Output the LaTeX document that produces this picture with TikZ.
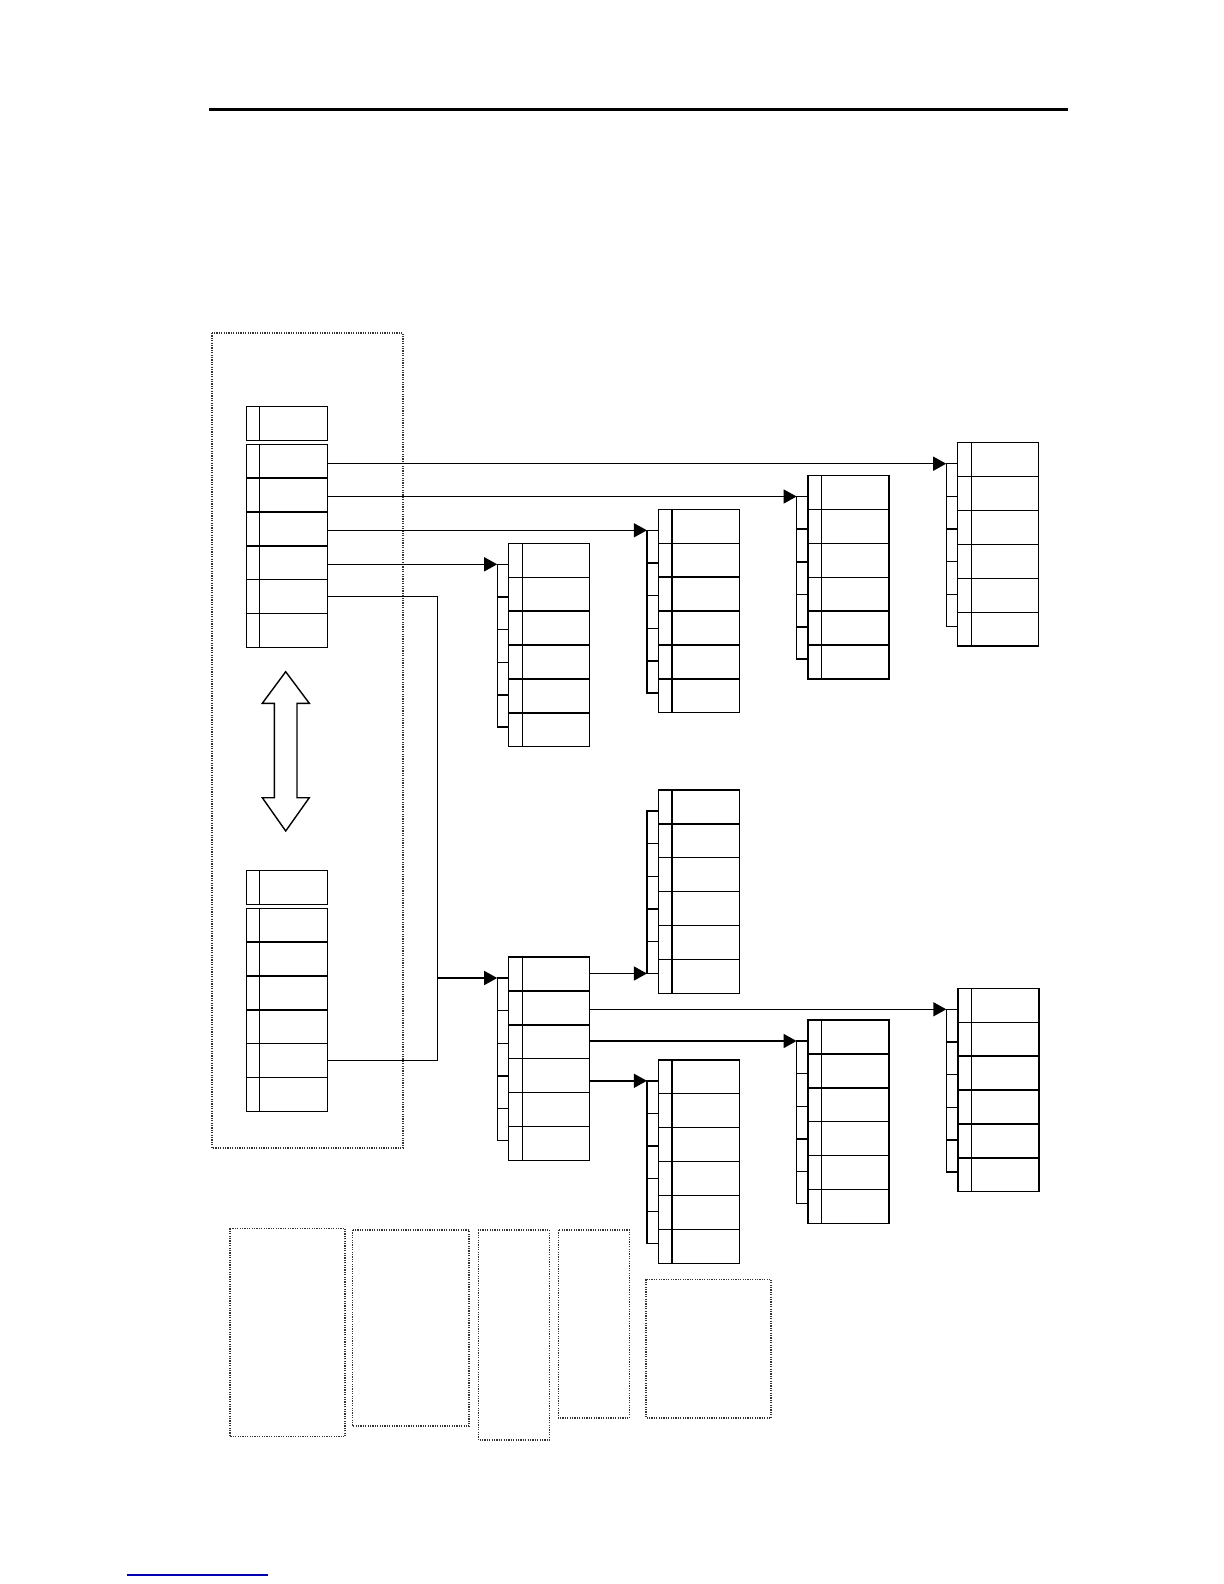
\documentclass[tikz,border=0pt]{standalone}
\usetikzlibrary{arrows.meta}
\tikzset{
  ln/.style={line width=0.7pt, black},
  cellbox/.style={draw, line width=0.7pt, minimum width=40.5pt, minimum height=16.95pt, inner sep=0pt, outer sep=0pt},
  lcell/.style={draw, line width=0.7pt, minimum width=40.7pt, minimum height=16.92pt, inner sep=0pt, outer sep=0pt},
  arr/.style={line width=0.7pt, -{Triangle[length=6.5pt,width=7pt]}},
  dotbox/.style={line width=0.6pt, black!80, dash pattern=on 0.6pt off 0.6pt},
}
% name, left x, top y
\newcommand{\cellstack}[3]{%
  \foreach \i in {1,...,6}{
    \node[cellbox] (#1\i) at ({#2+40.5},{#3+33.9*(\i-0.5)}) {};
  }
  \draw[ln] ({#2+13.5},#3) -- ({#2+13.5},{#3+203.4});
  \coordinate (#1top) at ({#2-11.5},{#3+21});
  \coordinate (#1bot) at ({#2-11.5},{#3+183.6});
  \draw[ln] ({#2},{#3+21}) -- (#1top) -- (#1bot) -- ({#2},{#3+183.6});
  \foreach \k in {1,...,4}{
    \draw[ln] ({#2-11.5},{#3+21+32.65*\k}) -- ({#2},{#3+21+32.65*\k});
  }
}
% name, left x, top y of header box
\newcommand{\leftstack}[3]{%
  \node[lcell, minimum height=17pt] (#1h) at ({#2+40.7},{#3+17}) {};
  \draw[ln] ({#2+13},#3) -- ({#2+13},{#3+34});
  \foreach \i in {1,...,6}{
    \node[lcell] (#1\i) at ({#2+40.7},{#3+38+33.85*(\i-0.5)}) {};
  }
  \draw[ln] ({#2+13},{#3+38}) -- ({#2+13},{#3+38+203.1});
}
\begin{document}
\begin{tikzpicture}[x=0.5pt,y=-0.5pt]
\useasboundingbox (0,0) rectangle (1224,1584);

% top rule
\draw[line width=1.6pt] (209,109.5) -- (1068,109.5);

% left dotted frame
\draw[dotbox] (212,333) rectangle (403,1148);

% left stacks
\leftstack{TL}{246.3}{406.3}
\leftstack{BL}{246.3}{870.3}

% double arrow
\draw[ln, line join=miter] (285.7,671.7) -- (309.3,703.3) -- (297,703.3) -- (297,797.7) -- (309.3,797.7) -- (285.7,831)
  -- (262.3,797.7) -- (274.3,797.7) -- (274.3,703.3) -- (262.3,703.3) -- cycle;

% upper stacks
\cellstack{A}{957.7}{442.7}
\cellstack{B}{808.1}{475.5}
\cellstack{C}{658.4}{509.3}
\cellstack{D}{508.7}{543.3}

% lower stacks
\cellstack{E}{508.7}{957}
\cellstack{F}{658.4}{789.9}
\cellstack{G}{658.4}{1059.8}
\cellstack{H}{808.1}{1020}
\cellstack{I}{957.8}{988.3}

% connectors from top-left stack
\draw[arr] (TL1.east |- Atop) -- (Atop);
\draw[arr] (TL2.east |- Btop) -- (Btop);
\draw[arr] (TL3.east |- Ctop) -- (Ctop);
\draw[arr] (TL4.east |- Dtop) -- (Dtop);

% junction to E
\path (Etop) ++(-60,0) coordinate (J);
\coordinate (Jt) at (J |- TL5.east);
\coordinate (Jb) at (J |- BL5.east);
\draw[ln] (TL5.east) -- (Jt) -- (Jb) -- (BL5.east);
\draw[arr] (J) -- (Etop);

% connectors from E
\draw[arr] (E1.east |- Fbot) -- (Fbot);
\draw[arr] (E2.east |- Itop) -- (Itop);
\draw[arr] (E3.east |- Htop) -- (Htop);
\draw[arr] (E4.east |- Gtop) -- (Gtop);

% bottom dotted boxes
\draw[dotbox] (230,1228.3) rectangle (345,1436.7);
\draw[dotbox] (352.3,1230) rectangle (469,1426);
\draw[dotbox] (478.3,1230) rectangle (549.3,1440);
\draw[dotbox] (558.3,1230) rectangle (629.3,1418);
\draw[dotbox] (646,1279.3) rectangle (771,1418);

% blue footnote rule
\draw[line width=0.9pt, blue!70!black] (127,1575) -- (268,1575);
\end{tikzpicture}
\end{document}
